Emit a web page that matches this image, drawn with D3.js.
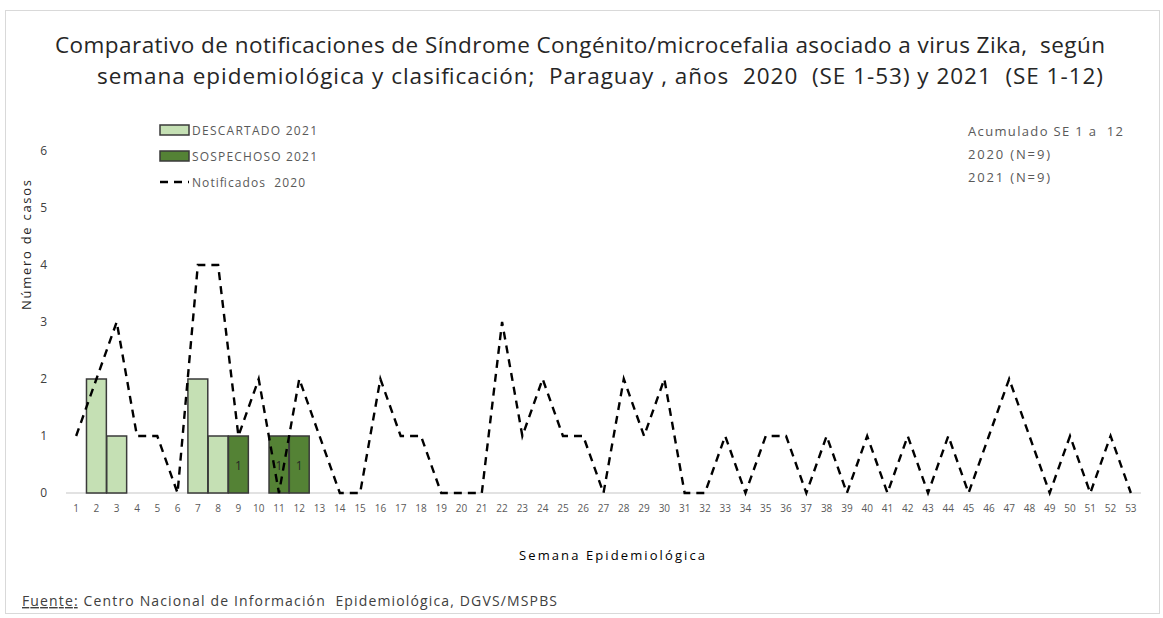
<!DOCTYPE html>
<html>
<head>
<meta charset="utf-8">
<script src="https://cdn.jsdelivr.net/npm/d3@7"></script>
<style>
body{margin:0;background:#fff;}
svg{font-family:'Open Sans','Liberation Sans',sans-serif;}
text{white-space:pre;}
</style>
</head>
<body>
<script>
// semanas epidemiologicas 1..53
var weeks = d3.range(1,54);
var notificados2020 = [1,2,3,1,1,0,4,4,1,2,0,2,1,0,0,2,1,1,0,0,0,3,1,2,1,1,0,2,1,2,0,0,1,0,1,1,0,1,0,1,0,1,0,1,0,1,2,1,0,1,0,1,0];
var descartado2021 = [0,2,1,0,0,0,2,1,0,0,0,0];
var sospechoso2021 = [0,0,0,0,0,0,0,0,1,0,1,1];
var yTicks = [0,1,2,3,4,5,6];
var acumulado = ['Acumulado SE 1 a  12','2020 (N=9)','2021 (N=9)'];

var width = 1163, height = 618;
var margin = {left:66,right:22,top:151,bottom:125};

var svg = d3.select('body').append('svg').attr('width',width).attr('height',height);

// marco
svg.append('rect').attr('x',5.5).attr('y',10.5).attr('width',1154).attr('height',603)
	.attr('fill','none').attr('stroke','#d9d9d9');

var x = d3.scaleBand()
	.domain(weeks)
	.range([margin.left,width-margin.right])
	.paddingInner(0.02).paddingOuter(0.01);

var y = d3.scaleLinear()
	.domain([0,6])
	.range([height-margin.bottom,margin.top]);

// titulo
var title = svg.append('text').attr('fill','#262626').style('font-size','22.5px');
title.append('tspan').attr('x',55).attr('y',53).attr('textLength',1050)
	.text('Comparativo de notificaciones de Síndrome Congénito/microcefalia asociado a virus Zika,  según');
title.append('tspan').attr('x',97).attr('y',84).attr('textLength',1006)
	.text('semana epidemiológica y clasificación;  Paraguay , años  2020  (SE 1-53) y 2021  (SE 1-12)');

// eje y
svg.append('g').selectAll('text').data(yTicks).enter().append('text')
	.attr('x',47).attr('y',d=>y(d)+4).attr('text-anchor','end')
	.style('font-size','12px').attr('fill','#404040').text(d=>d);

svg.append('text').attr('transform','translate(31,245) rotate(-90)')
	.attr('text-anchor','middle').style('font-size','13px').attr('fill','#262626')
	.attr('textLength',130).text('Número de casos');

// linea base
svg.append('line').attr('x1',x.range()[0]).attr('x2',x.range()[1])
	.attr('y1',y(0)).attr('y2',y(0)).attr('stroke','#d9d9d9').attr('stroke-width',1.5);

// eje x
var xAxis = svg.append('g').attr('transform',`translate(0,${y(0)})`)
	.call(d3.axisBottom(x).tickSize(0).tickPadding(12));
xAxis.select('.domain').remove();
xAxis.selectAll('text').style('font-size','10px').attr('fill','#595959')
	.style('font-family',"'Open Sans','Liberation Sans',sans-serif");

svg.append('text').attr('x',519).attr('y',560).attr('textLength',186)
	.style('font-size','13px').attr('fill','#000').text('Semana Epidemiológica');

// barras 2021 apiladas
var rows = descartado2021.map((d,i)=>({week:i+1,descartado:d,sospechoso:sospechoso2021[i]}));
var stacked = d3.stack().keys(['descartado','sospechoso'])(rows);
var colors = {descartado:'#c5e0b4',sospechoso:'#548235'};

svg.append('g').selectAll('g').data(stacked).enter().append('g')
	.attr('fill',d=>colors[d.key])
	.selectAll('rect').data(d=>d.filter(p=>p[1]>p[0])).enter().append('rect')
		.attr('x',d=>x(d.data.week)).attr('width',x.bandwidth())
		.attr('y',d=>y(d[1])).attr('height',d=>y(d[0])-y(d[1]))
		.attr('stroke','#3a3a3a').attr('stroke-width',1.5);

// etiquetas sospechoso
svg.append('g').selectAll('text').data(stacked[1].filter(p=>p[1]>p[0])).enter().append('text')
	.attr('x',d=>x(d.data.week)+x.bandwidth()/2).attr('y',d=>y((d[0]+d[1])/2)+5)
	.attr('text-anchor','middle').style('font-size','12px').attr('fill','#262626')
	.text(d=>d[1]-d[0]);

// linea 2020
var line = d3.line()
	.x((d,i)=>x(weeks[i])+x.bandwidth()/2)
	.y(d=>y(d));

svg.append('path').attr('d',line(notificados2020))
	.attr('fill','none').attr('stroke','#000').attr('stroke-width',2.4)
	.attr('stroke-dasharray','8,6');

// leyenda
var legend = svg.append('g').style('font-size','12px');
[['DESCARTADO 2021',colors.descartado,125],['SOSPECHOSO 2021',colors.sospechoso,125]].forEach((d,i)=>{
	legend.append('rect').attr('x',160).attr('y',125+i*26).attr('width',29).attr('height',10)
		.attr('fill',d[1]).attr('stroke','#3a3a3a').attr('stroke-width',1.5);
	legend.append('text').attr('x',192).attr('y',135+i*26).attr('fill','#595959')
		.attr('textLength',d[2]).text(d[0]);
});
legend.append('line').attr('x1',160).attr('x2',189).attr('y1',182).attr('y2',182)
	.attr('stroke','#000').attr('stroke-width',2.4).attr('stroke-dasharray','8,6');
legend.append('text').attr('x',192).attr('y',187).attr('fill','#595959')
	.attr('textLength',113).text('Notificados  2020');

// acumulado
svg.append('g').selectAll('text').data(acumulado).enter().append('text')
	.attr('x',968).attr('y',(d,i)=>136+i*23).style('font-size','13px').attr('fill','#595959')
	.attr('textLength',(d,i)=>i===0?155:82)
	.text(d=>d);

// fuente
var fuente = svg.append('text').attr('x',22).attr('y',606).style('font-size','14px').attr('fill','#404040')
	.attr('textLength',535);
fuente.append('tspan').attr('text-decoration','underline').text('Fuente:');
fuente.append('tspan').text(' Centro Nacional de Información  Epidemiológica, DGVS/MSPBS');
</script>
</body>
</html>
